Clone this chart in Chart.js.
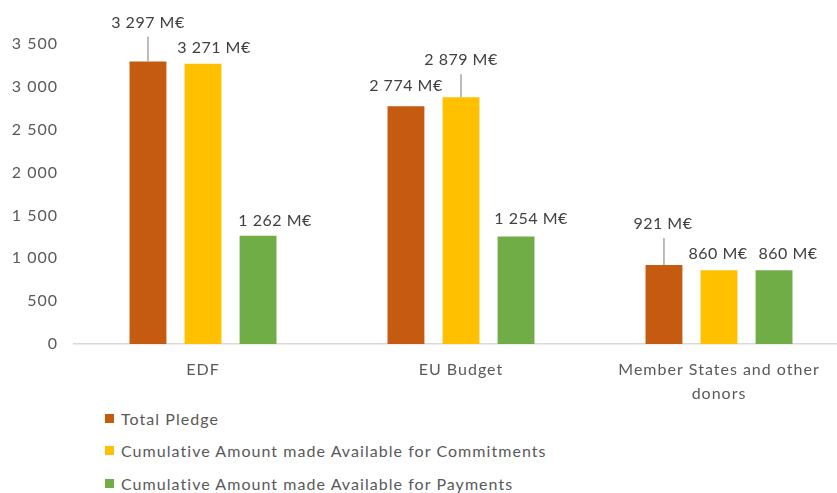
<!DOCTYPE html>
<html>
<head>
<meta charset="utf-8">
<script src="https://cdn.jsdelivr.net/npm/chart.js@4/dist/chart.umd.min.js"></script>
<style>
  html, body { margin: 0; padding: 0; background: #fff; overflow: hidden; }
  #wrap { position: relative; width: 848px; height: 493px; }
  #box { position: absolute; left: 0; top: 0; width: 848px; height: 400px; }
  #legend { position: absolute; left: 105px; top: 408px; font-family: Lato, sans-serif; font-size: 16px; letter-spacing: 1.05px; color: #595959; }
  #legend div { display: flex; align-items: center; height: 20px; margin-bottom: 12.5px; }
  #legend span.sw { display: inline-block; width: 9px; height: 9px; margin-right: 7px; }
</style>
</head>
<body>
<div id="wrap">
  <div id="box"><canvas id="myChart"></canvas></div>
  <div id="legend"></div>
</div>
<script>
// fonds : promesses et montants cumulés (M€)
const categories = ['EDF', 'EU Budget', ['Member States and other', 'donors']];
const seriesNames = ['Total Pledge', 'Cumulative Amount made Available for Commitments', 'Cumulative Amount made Available for Payments'];
const totalPledge = [3297, 2774, 921];
const availCommitments = [3271, 2879, 860];
const availPayments = [1262, 1254, 860];
const yTicks = [0, 500, 1000, 1500, 2000, 2500, 3000, 3500];

const colors = ['#C55A11', '#FFC000', '#70AD47'];

// décalage des étiquettes [dx, dy] par rapport au haut de la barre
const labelShift = [
  [[0, -39], [0, -20], [-1, -41]],
  [[11, -16], [0, -37], [-1, -16]],
  [[17, -15], [15, -18], [14, -16]]
];

function fmt(v) {
  return String(v).replace(/\B(?=(\d{3})+(?!\d))/g, ' ');
}

// espacement des lettres pour les axes
const spacing = {
  id: 'spacing',
  beforeDraw(chart) { chart.ctx.letterSpacing = '1px'; }
};

const valueLabels = {
  id: 'valueLabels',
  afterDatasetsDraw(chart) {
    const ctx = chart.ctx;
    ctx.save();
    ctx.letterSpacing = '0.5px';
    ctx.font = '16px Lato, sans-serif';
    ctx.textAlign = 'center';
    ctx.textBaseline = 'middle';
    chart.data.datasets.forEach((ds, d) => {
      chart.getDatasetMeta(d).data.forEach((bar, i) => {
        const s = labelShift[d][i];
        const lx = bar.x + s[0];
        const ly = bar.y + s[1];
        if (s[1] < -30) {
          ctx.strokeStyle = '#a6a6a6';
          ctx.lineWidth = 1.5;
          ctx.beginPath();
          ctx.moveTo(bar.x, ly + 14);
          ctx.lineTo(bar.x, bar.y);
          ctx.stroke();
        }
        ctx.fillStyle = '#404040';
        ctx.fillText(fmt(ds.data[i]) + ' M€', lx, ly);
      });
    });
    ctx.restore();
  }
};

const data = {
  labels: categories,
  datasets: [totalPledge, availCommitments, availPayments].map((vals, k) => ({
    label: seriesNames[k],
    data: vals,
    backgroundColor: colors[k],
    categoryPercentage: 0.64,
    barPercentage: 0.67
  }))
};

const myChart = new Chart(document.getElementById('myChart').getContext('2d'), {
  type: 'bar',
  data: data,
  options: {
    responsive: true,
    maintainAspectRatio: false,
    animation: false,
    layout: { padding: { top: 44, left: 0, right: 0, bottom: 0 } },
    plugins: { legend: { display: false }, tooltip: { enabled: false } },
    scales: {
      x: {
        grid: { display: false },
        border: { display: true, color: '#d9d9d9', width: 1.5 },
        ticks: { color: '#595959', font: { family: 'Lato', size: 16, lineHeight: 1.5 }, padding: 6, maxRotation: 0 },
        afterFit(scale) { scale.height = 56; }
      },
      y: {
        min: 0,
        max: 3500,
        grid: { display: false },
        border: { display: false },
        afterBuildTicks(scale) { scale.ticks = yTicks.map(v => ({ value: v })); },
        ticks: { color: '#595959', font: { family: 'Lato', size: 16 }, padding: 8, callback: v => fmt(v) },
        afterFit(scale) { scale.width = 74; }
      }
    }
  },
  plugins: [spacing, valueLabels]
});

// légende verticale sous le graphique
const legend = document.getElementById('legend');
myChart.data.datasets.forEach(ds => {
  const row = document.createElement('div');
  const sw = document.createElement('span');
  sw.className = 'sw';
  sw.style.background = ds.backgroundColor;
  row.appendChild(sw);
  row.appendChild(document.createTextNode(ds.label));
  legend.appendChild(row);
});
</script>
</body>
</html>
